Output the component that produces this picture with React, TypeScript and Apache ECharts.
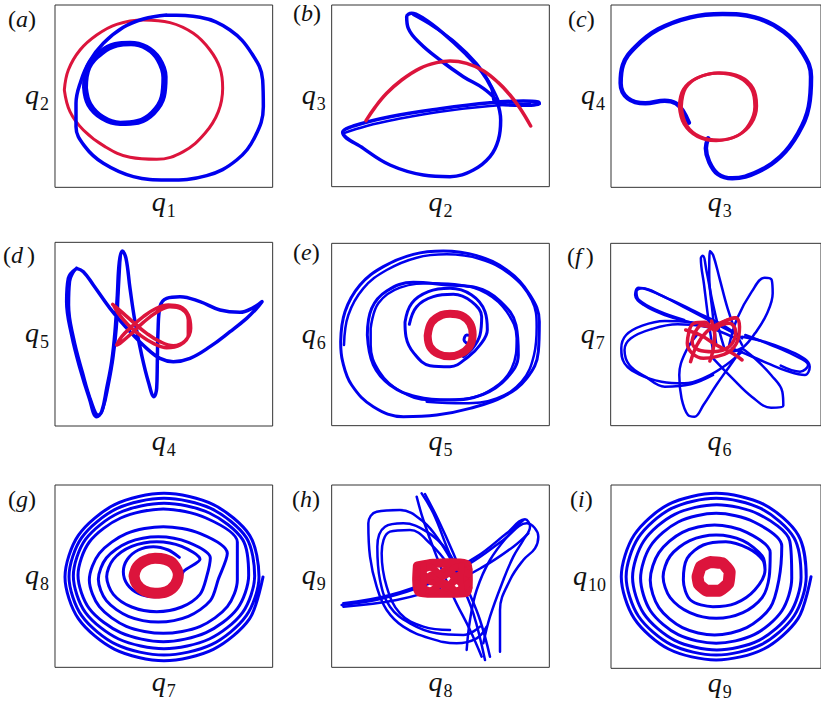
import React, { useEffect, useRef } from "react";
import * as echarts from "echarts";

// ---------- data (in each panel's own reading units; y grows downward) ----------
const aRed = [[193,270],[205,210],[240,150],[290,105],[350,73],[430,60],[510,68],[580,100],[630,150],[660,205],[668,265],[655,335],[615,400],[550,455],[470,478],[390,472],[315,440],[250,390],[210,335],[193,270]];
const aBlueOuter = [[500,45],[600,52],[690,90],[755,160],[788,240],[790,320],[765,410],[710,480],[620,527],[500,540],[400,530],[310,490],[255,440],[228,380],[228,310],[242,245],[268,185],[310,130],[370,82],[430,57],[500,45]];
const aBlueInner1 = [[252,262],[262,200],[300,155],[345,132],[390,128],[440,140],[478,175],[497,230],[492,290],[462,340],[415,368],[360,372],[305,355],[265,315],[252,262]];
const aBlueInner2 = [[258,264],[268,203],[306,160],[351,137],[393,133],[440,146],[473,179],[490,233],[485,290],[456,337],[412,363],[361,368],[309,351],[271,312],[258,264]];

const bRed = [[228,362],[255,322],[290,280],[335,240],[390,205],[440,188],[480,183],[530,190],[580,212],[625,248],[660,285],[690,325],[722,378]];
const bBlue1 = [[620,300],[632,360],[625,420],[600,470],[550,510],[480,530],[400,525],[300,495],[220,445],[158,397],[190,378],[300,350],[450,326],[600,308],[700,303],[745,306],[748,312],[700,316],[620,310],[605,265],[575,215],[525,160],[460,100],[400,55],[365,40],[350,50],[355,85],[390,130],[450,180],[520,230],[580,265],[620,300]];
const bBlue2 = [[160,400],[230,378],[320,358],[450,335],[600,318],[720,312]];
const bBlue3 = [[370,45],[430,80],[500,130],[560,190],[600,250],[625,300]];

const cBlue = [[395,368],[378,335],[355,310],[320,302],[260,310],[205,295],[183,250],[190,195],[230,140],[300,88],[400,52],[500,42],[600,52],[690,95],[750,160],[775,230],[768,320],[735,400],[680,470],[610,515],[530,535],[485,522],[458,485],[448,445],[455,415]];
const cRed1 = [[372,320],[385,265],[425,232],[490,218],[555,230],[595,265],[606,318],[590,370],[550,405],[490,420],[430,410],[388,375],[372,320]];
const cRed2 = [[365,318],[378,268],[418,235],[485,220],[550,232],[590,268],[600,320],[583,372],[545,408],[480,422],[422,410],[380,372],[365,318]];

const dBlue1 = [[230,100],[205,130],[200,200],[215,300],[240,400],[268,490],[290,545],[305,530],[320,460],[335,380],[345,290],[352,180],[358,80],[367,48],[378,70],[390,160],[405,260],[425,360],[445,440],[462,485],[470,460],[472,380],[474,290],[480,215],[500,190],[540,185],[600,200],[660,225],[720,232],[760,218],[786,200],[770,220],[740,250],[690,290],[630,335],[570,370],[520,380],[480,370],[440,340],[390,290],[330,220],[280,150],[250,110],[230,100]];
const dBlue2 = [[225,105],[210,140],[207,210],[222,310],[248,410],[275,500],[296,540],[310,520],[326,450],[340,370],[350,280],[356,170],[362,60]];
const dRed = [[338,208],[370,235],[400,262],[440,295],[480,320],[520,332],[555,318],[572,280],[565,240],[540,215],[505,210],[465,222],[430,245],[395,275],[365,305],[350,330],[360,325],[395,295],[430,262],[470,232],[510,215],[545,222],[565,255],[565,300],[540,330],[500,338],[460,325],[420,300],[385,270],[355,235],[340,210]];

const eBlueOuter1 = [[152,320],[165,230],[210,150],[280,95],[370,58],[460,48],[560,62],[650,105],[720,180],[748,260],[745,350],[710,430],[640,485],[540,520],[440,540],[340,545],[250,515],[185,450],[158,380],[152,320]];
const eBlueOuter2 = [[162,330],[175,240],[220,160],[290,105],[380,68],[470,58],[570,72],[660,118],[725,195],[740,275],[732,360],[695,440],[620,490],[520,505],[410,500]];
const eBlueMid1 = [[232,300],[245,220],[290,168],[370,142],[470,150],[560,158],[630,198],[678,270],[685,360],[650,430],[580,478],[480,495],[380,485],[300,450],[250,390],[232,300]];
const eBlueMid2 = [[242,280],[265,205],[330,158],[430,145],[510,150],[590,175],[650,230],[680,310],[665,400],[610,460],[520,492],[420,495],[330,468],[268,410],[242,330],[242,280]];
const eBlueIn1 = [[345,262],[365,205],[415,170],[480,160],[545,180],[585,230],[592,285],[570,330],[535,365],[480,395],[420,392],[372,355],[348,305],[345,262]];
const eBlueIn2 = [[358,268],[380,215],[430,185],[490,178],[545,200],[575,245],[570,300],[548,340],[520,365],[540,345],[555,325],[545,305],[530,300],[522,315],[530,325]];
const eRed = [[413,302],[425,262],[455,240],[480,236],[515,242],[540,265],[548,300],[538,335],[510,357],[478,364],[445,357],[420,335],[413,302]];

const fBlue1 = [[470,350],[455,250],[442,150],[432,70],[438,62],[450,110],[468,200],[490,290],[505,340]];
const fBlue2 = [[480,330],[468,230],[458,120],[460,48],[470,60],[490,130],[515,220],[540,290],[560,330]];
const fBlue3 = [[520,330],[545,250],[590,170],[630,128],[652,135],[655,175],[635,240],[600,295],[565,335],[530,350]];
const fBlue4 = [[560,310],[500,270],[420,232],[340,195],[270,165],[238,158],[228,180],[255,210],[320,240],[400,262],[480,285],[550,315]];
const fBlue5 = [[545,300],[470,262],[390,222],[310,182],[250,160],[232,170],[240,195],[300,228],[380,255]];
const fBlue6 = [[470,280],[400,262],[320,258],[250,272],[200,300],[185,340],[195,385],[240,418],[310,440],[380,445],[450,425],[510,390],[560,350]];
const fBlue7 = [[450,275],[360,268],[280,282],[215,310],[195,345],[210,390],[260,425],[320,455],[400,448],[470,420]];
const fBlue8 = [[420,300],[385,350],[365,420],[372,490],[392,540],[412,545],[440,510],[480,450],[520,395],[560,340]];
const fBlue9 = [[470,370],[530,430],[590,485],[650,518],[688,512],[685,470],[650,420],[605,375],[560,340]];
const fBlue10 = [[560,305],[630,320],[700,345],[755,372],[770,395],[755,420],[700,408],[640,385],[580,360],[530,340]];
const fBlue11 = [[570,300],[650,330],[720,360],[765,390],[740,410],[680,392]];
const fRed1 = [[395,290],[410,265],[445,262],[475,285],[500,262],[540,248],[552,275],[545,320],[520,350],[480,365],[440,370],[405,355],[390,325],[395,290]];
const fRed2 = [[400,380],[420,330],[450,290],[490,265],[540,248]];
const fRed3 = [[385,285],[430,300],[480,330],[530,355],[560,375]];
const fRed4 = [[430,270],[470,275],[520,265],[540,290],[520,335],[470,350],[425,345],[405,320],[415,290],[430,270]];
const fRed5 = [[465,258],[475,300],[470,345],[460,378]];

const gBlue = [
  [789,321],[749,446],[640,538],[492,572],[344,538],[235,446],[195,321],[235,196],[344,104],[492,70],[640,104],[749,196],
  [777,320],[739,437],[634,524],[492,555],[350,524],[245,437],[207,320],[245,203],[350,116],[492,85],[634,116],[739,203],
  [764,318],[728,427],[628,507],[492,536],[356,507],[256,427],[220,318],[256,209],[356,129],[492,100],[628,129],[728,209],
  [746,316],[712,416],[618,488],[490,515],[362,488],[268,416],[234,316],[268,216],[362,144],[490,117],[618,144],[712,216],
  [712,330],[682,410],[601,469],[490,490],[379,469],[298,410],[268,330],[298,250],[379,191],[490,170],[601,191],[682,250],
  [655,328],[631,392],[565,439],[475,456],[385,439],[319,392],[295,328],[319,264],[385,217],[475,200],[565,217],[631,264],
  [620,320],[600,373],[545,411],[470,425],[395,411],[340,373],[320,320],[340,268],[395,229],[470,215],[545,229],[600,268],
  [550,305],[538,343],[505,370],[460,380],[415,370],[382,343],[370,305],[382,268],[415,240],[460,230],[505,240],[538,262]];
const gRed = [[402,318],[412,290],[435,272],[465,265],[495,268],[520,282],[535,315],[525,345],[500,365],[465,370],[432,362],[410,342],[402,318]];

const hBlue1 = [[500,300],[450,215],[400,155],[330,120],[260,125],[235,160],[240,260],[260,350],[290,420],[340,470],[420,505],[500,520],[560,505],[590,470]];
const hBlue2 = [[520,330],[470,240],[410,185],[340,160],[285,170],[262,230],[270,330],[300,410],[360,460],[440,490],[520,495],[570,470]];
const hBlue3 = [[480,290],[420,220],[360,180],[300,185],[275,250],[290,350],[330,430],[400,470],[480,480]];
const hBlue4 = [[395,70],[430,130],[470,230],[510,330],[550,430],[585,570]];
const hBlue5 = [[380,80],[400,150],[440,260],[490,380],[540,480],[575,560]];
const hBlue6 = [[405,72],[445,150],[490,250],[530,350],[570,450],[600,560]];
const hBlue7 = [[155,405],[280,385],[420,340],[540,280],[640,210],[710,160],[745,200],[735,235],[700,270],[660,330],[630,420],[630,545]];
const hBlue8 = [[160,400],[300,375],[440,325],[560,260],[650,190],[705,148],[720,170],[700,210],[670,260],[640,330],[600,440],[580,520]];
const hBlue9 = [[160,410],[320,390],[460,350],[580,290],[670,230],[715,190]];
const hBlue10 = [[700,150],[660,190],[600,270],[560,360],[540,450],[530,540]];
const hRed1 = [[382,288],[430,280],[480,278],[532,285],[535,330],[528,368],[480,370],[430,370],[387,366],[380,330],[382,288]];
const hRed2 = [[385,300],[430,335],[470,300],[510,335],[535,300]];
const hRed3 = [[385,352],[430,315],[470,352],[510,315],[535,352]];
const hRed4 = [[380,312],[420,292],[460,318],[500,292],[535,312]];
const hRed5 = [[380,340],[420,362],[460,338],[500,362],[535,340]];
const hRed6 = [[400,285],[402,330],[398,370]];
const hRed7 = [[515,285],[512,330],[518,370]];

const iBlue = [
  [775,320],[735,445],[628,537],[480,570],[332,537],[225,445],[185,320],[225,195],[332,103],[480,70],[628,103],[735,195],
  [760,320],[722,438],[620,524],[480,555],[340,524],[238,438],[200,320],[238,203],[340,116],[480,85],[620,116],[722,203],
  [744,322],[709,431],[613,511],[482,540],[351,511],[255,431],[220,322],[255,213],[351,133],[482,104],[613,133],[709,213],
  [715,325],[684,423],[598,494],[480,520],[362,494],[276,423],[245,325],[276,228],[362,156],[480,130],[598,156],[684,228],
  [675,330],[648,413],[575,473],[475,495],[375,473],[302,413],[275,330],[302,248],[375,187],[475,165],[575,187],[648,248],
  [645,320],[623,383],[563,428],[480,445],[398,428],[337,383],[315,320],[337,258],[398,212],[480,195],[563,212],[623,258],
  [632,300],[600,360],[540,400],[470,410],[400,390],[378,330],[390,265],[440,225],[510,215],[580,235],[625,270],[632,300]];
const iRed = [[422,320],[432,290],[462,276],[500,280],[522,305],[518,340],[490,362],[450,362],[426,342],[422,320]];

const panelLetters = ["a", "b", "c", "d", "e", "f", "g", "h", "i"];
const xSubs = ["1", "2", "3", "4", "5", "6", "7", "8", "9"];
const ySubs = ["2", "3", "4", "5", "6", "7", "8", "9", "10"];

// ---------- layout & style ----------
const BLUE = "#0000ee";
const RED = "#dc143c";
const FONT = "'Liberation Serif', serif";

// offX/offY: crop origin (px), x0..x1 / y0..y1: frame in reading units (3 units = 1px)
const LAYOUT = [
  { offX: 0, offY: 0, x0: 165, x1: 818, y0: 15, y1: 562, lx: 8, ly: 19 },
  { offX: 290, offY: 0, x0: 125, x1: 778, y0: 15, y1: 560, lx: 293, ly: 13 },
  { offX: 560, offY: 0, x0: 153, x1: 806, y0: 15, y1: 562, lx: 568, ly: 19 },
  { offX: 0, offY: 235, x0: 165, x1: 818, y0: 22, y1: 573, lx: 3, ly: 255 },
  { offX: 290, offY: 235, x0: 125, x1: 778, y0: 25, y1: 572, lx: 293, ly: 252 },
  { offX: 560, offY: 235, x0: 152, x1: 805, y0: 25, y1: 572, lx: 567, ly: 256 },
  { offX: 0, offY: 470, x0: 165, x1: 818, y0: 45, y1: 592, lx: 8, ly: 499 },
  { offX: 290, offY: 470, x0: 125, x1: 778, y0: 45, y1: 592, lx: 292, ly: 499 },
  { offX: 560, offY: 470, x0: 153, x1: 806, y0: 45, y1: 595, lx: 570, ly: 499 },
];

const SERIES: [number, number[][], string, number, number][] = [
  [0, aRed, RED, 3, 0.4], [0, aBlueOuter, BLUE, 3.5, 0.4], [0, aBlueInner1, BLUE, 4, 0.4], [0, aBlueInner2, BLUE, 4, 0.4],
  [1, bBlue1, BLUE, 3.5, 0.4], [1, bBlue2, BLUE, 2.5, 0.4], [1, bBlue3, BLUE, 2.5, 0.4], [1, bRed, RED, 3.5, 0.4],
  [2, cBlue, BLUE, 4.5, 0.4], [2, cRed1, RED, 3, 0.4], [2, cRed2, RED, 3, 0.4],
  [3, dBlue1, BLUE, 3.5, 0.4], [3, dBlue2, BLUE, 2.5, 0.4], [3, dRed, RED, 3.5, 0.4],
  [4, eBlueOuter1, BLUE, 3, 0.4], [4, eBlueOuter2, BLUE, 2.5, 0.4], [4, eBlueMid1, BLUE, 3, 0.4], [4, eBlueMid2, BLUE, 2.5, 0.4], [4, eBlueIn1, BLUE, 3, 0.4], [4, eBlueIn2, BLUE, 3, 0.4], [4, eRed, RED, 8, 0.4],
  [5, fBlue1, BLUE, 2.5, 0.4], [5, fBlue2, BLUE, 2.5, 0.4], [5, fBlue3, BLUE, 2.5, 0.4], [5, fBlue4, BLUE, 2.5, 0.4], [5, fBlue5, BLUE, 2.5, 0.4], [5, fBlue6, BLUE, 2.5, 0.4], [5, fBlue7, BLUE, 2.5, 0.4], [5, fBlue8, BLUE, 2.5, 0.4], [5, fBlue9, BLUE, 2.5, 0.4], [5, fBlue10, BLUE, 2.5, 0.4], [5, fBlue11, BLUE, 2.5, 0.4],
  [5, fRed1, RED, 3.5, 0.4], [5, fRed2, RED, 3.5, 0.4], [5, fRed3, RED, 3.5, 0.4], [5, fRed4, RED, 3.5, 0.4], [5, fRed5, RED, 3.5, 0.4],
  [6, gBlue, BLUE, 3, 0.3], [6, gRed, RED, 11, 0.4],
  [7, hBlue1, BLUE, 2.5, 0.4], [7, hBlue2, BLUE, 2.5, 0.4], [7, hBlue3, BLUE, 2.5, 0.4], [7, hBlue4, BLUE, 2.5, 0.4], [7, hBlue5, BLUE, 2.5, 0.4], [7, hBlue6, BLUE, 2.5, 0.4], [7, hBlue7, BLUE, 2.5, 0.4], [7, hBlue8, BLUE, 2.5, 0.4], [7, hBlue9, BLUE, 2.5, 0.4], [7, hBlue10, BLUE, 2.5, 0.4],
  [7, hRed1, RED, 9, 0.3], [7, hRed2, RED, 8, 0.3], [7, hRed3, RED, 8, 0.3], [7, hRed4, RED, 7, 0.3], [7, hRed5, RED, 7, 0.3], [7, hRed6, RED, 6, 0.3], [7, hRed7, RED, 6, 0.3],
  [8, iBlue, BLUE, 3, 0.3], [8, iRed, RED, 12, 0.1],
];

function frame(p: typeof LAYOUT[number]) {
  const left = p.offX + p.x0 / 3;
  const top = p.offY + p.y0 / 3;
  const width = (p.x1 - p.x0) / 3;
  const height = (p.y1 - p.y0) / 3;
  return { left, top, width, height };
}

function qText(x: number, baseline: number, sub: string): any[] {
  return [
    { type: "text", x, y: baseline - 9.5, silent: true,
      style: { text: "q", fontFamily: FONT, fontStyle: "italic", fontSize: 28, fill: "#111", align: "left", verticalAlign: "middle" } },
    { type: "text", x: x + 15, y: baseline, silent: true,
      style: { text: sub, fontFamily: FONT, fontSize: 18, fill: "#111", align: "left", verticalAlign: "middle" } },
  ];
}

export default function App() {
  const ref = useRef<HTMLDivElement>(null);
  useEffect(() => {
    if (!ref.current) return;
    const chart = echarts.init(ref.current, undefined, { renderer: "svg" });
    const grids: any[] = [];
    const xAxes: any[] = [];
    const yAxes: any[] = [];
    const graphics: any[] = [];
    LAYOUT.forEach((p, i) => {
      const f = frame(p);
      grids.push({ ...f, show: true, borderColor: "#333", borderWidth: 1, backgroundColor: "transparent" });
      const hidden = { show: false, splitLine: { show: false } };
      xAxes.push({ type: "value", gridIndex: i, min: p.x0, max: p.x1, ...hidden });
      yAxes.push({ type: "value", gridIndex: i, min: p.y0, max: p.y1, inverse: true, ...hidden });
      const letter = panelLetters[i];
      const pad = letter === "d" || letter === "f" ? 4 : 0;
      graphics.push({
        type: "text", x: p.lx, y: p.ly, silent: true,
        style: {
          text: `{p|(}{i|${letter}}{p|)}`, align: "left", verticalAlign: "middle",
          rich: {
            p: { fontFamily: FONT, fontSize: 24, fill: "#111" },
            i: { fontFamily: FONT, fontSize: 24, fontStyle: "italic", fill: "#111", padding: [0, pad, 0, 0] },
          },
        },
      });
      const cx = f.left + f.width / 2;
      graphics.push(...qText(cx - 12, f.top + f.height + 24, xSubs[i]));
      const ys = ySubs[i];
      const qx = f.left - (ys.length > 1 ? 38 : 30);
      graphics.push(...qText(qx, f.top + f.height / 2 + 8, ys));
    });
    const series = SERIES.map(([pi, data, color, w, sm]) => ({
      type: "line", xAxisIndex: pi, yAxisIndex: pi, data, smooth: sm, showSymbol: false, symbol: "none",
      clip: false, silent: true,
      lineStyle: { color, width: w, cap: "round", join: "round" },
    }));
    chart.setOption({
      animation: false,
      backgroundColor: "#fff",
      grid: grids,
      xAxis: xAxes,
      yAxis: yAxes,
      series,
      graphic: graphics,
    });
    return () => chart.dispose();
  }, []);
  return (
    <div style={{ position: "absolute", left: 0, top: 0, width: 821, height: 703, overflow: "hidden" }}>
      <div ref={ref} style={{ width: 821, height: 703 }} />
    </div>
  );
}
